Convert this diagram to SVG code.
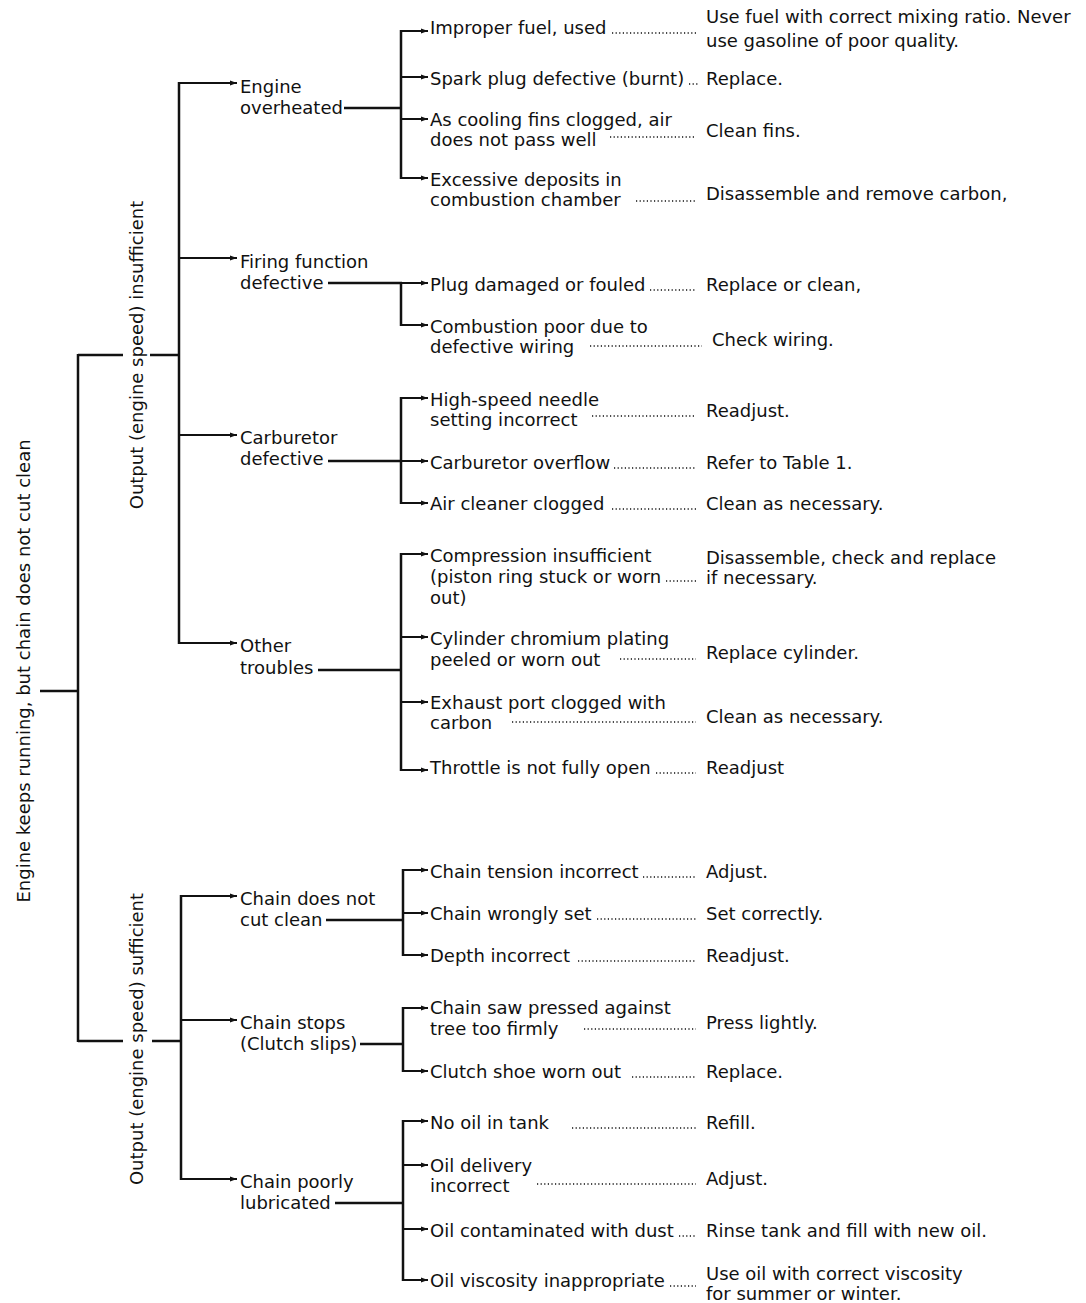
<svg xmlns="http://www.w3.org/2000/svg" width="1086" height="1303" viewBox="0 0 1086 1303">
<defs>
<marker id="tip" markerUnits="userSpaceOnUse" markerWidth="7" markerHeight="6" refX="7" refY="3" orient="auto"><path d="M0,0.5 L7,3 L0,5.5 z" fill="#111"/></marker>
<style>
.t{font-family:"DejaVu Sans","Liberation Sans",sans-serif;font-size:18px;fill:#111}
.ln{stroke:#111;stroke-width:2.5;fill:none}
.br{stroke:#111;stroke-width:2;fill:none;marker-end:url(#tip)}
.dt{stroke:#111;stroke-width:1.6;fill:none;stroke-dasharray:1.2 2.4}
</style>
</defs>
<rect width="1086" height="1303" fill="#fff"/>
<g id="connectors">
<path class="ln" d="M40 691H79 M78 354V1042 M78 355H123 M150 355H180 M78 1041H123 M152 1041H182 M179 82V644 M181 895V1180"/>
<path class="ln" d="M344 108H402 M328 283H402 M328 461H402 M318 670H402 M326 920H404 M360 1044H404 M335 1203H404"/>
<path class="ln" d="M401 30V179 M401 282V326 M401 397V504 M401 553V771 M403 869V956 M403 1007V1072 M403 1120V1281"/>
<path class="br" d="M179 83H237"/><path class="br" d="M179 258H237"/><path class="br" d="M179 435H237"/><path class="br" d="M179 643H237"/>
<path class="br" d="M181 896H237"/><path class="br" d="M181 1020H237"/><path class="br" d="M181 1179H237"/>
<path class="br" d="M401 31H428"/><path class="br" d="M401 77H428"/><path class="br" d="M401 119H428"/><path class="br" d="M401 178H428"/>
<path class="br" d="M401 283H428"/><path class="br" d="M401 325H428"/>
<path class="br" d="M401 398H428"/><path class="br" d="M401 461H428"/><path class="br" d="M401 503H428"/>
<path class="br" d="M401 554H428"/><path class="br" d="M401 637H428"/><path class="br" d="M401 702H428"/><path class="br" d="M401 770H428"/>
<path class="br" d="M403 870H428"/><path class="br" d="M403 913H428"/><path class="br" d="M403 955H428"/>
<path class="br" d="M403 1008H428"/><path class="br" d="M403 1071H428"/>
<path class="br" d="M403 1121H428"/><path class="br" d="M403 1165H428"/><path class="br" d="M403 1229H428"/><path class="br" d="M403 1280H428"/>
<path class="dt" d="M612 33H696 M689 84H698 M610 137H696 M636 201H696 M650 290H696 M590 346H702 M592 416H696 M614 468H696 M612 509H696 M666 581H696 M620 659H696 M512 722H696 M656 773H696 M643 877H696 M597 919H696 M578 961H696 M584 1029H696 M632 1077H696 M572 1128H696 M537 1184H696 M679 1236H696 M670 1286H696"/>
</g>
<g id="root"><text class="t" x="30" y="671" text-anchor="middle" transform="rotate(-90 30 671)">Engine keeps running, but chain does not cut clean</text></g>
<g id="output-insufficient"><text class="t" x="143" y="355" text-anchor="middle" transform="rotate(-90 143 355)">Output (engine speed) insufficient</text></g>
<g id="output-sufficient"><text class="t" x="143" y="1039" text-anchor="middle" transform="rotate(-90 143 1039)">Output (engine speed) sufficient</text></g>
<g id="engine-overheated"><text class="t" x="240" y="93">Engine</text><text class="t" x="240" y="114">overheated</text></g>
<g id="firing-defective"><text class="t" x="240" y="268">Firing function</text><text class="t" x="240" y="289">defective</text></g>
<g id="carburetor-defective"><text class="t" x="240" y="444">Carburetor</text><text class="t" x="240" y="465">defective</text></g>
<g id="other-troubles"><text class="t" x="240" y="652">Other</text><text class="t" x="240" y="674">troubles</text></g>
<g id="chain-not-cut"><text class="t" x="240" y="905">Chain does not</text><text class="t" x="240" y="926">cut clean</text></g>
<g id="chain-stops"><text class="t" x="240" y="1029">Chain stops</text><text class="t" x="240" y="1050">(Clutch slips)</text></g>
<g id="chain-lubricated"><text class="t" x="240" y="1188">Chain poorly</text><text class="t" x="240" y="1209">lubricated</text></g>
<g id="c-improper-fuel"><text class="t" x="430" y="34">Improper fuel, used</text></g>
<g id="r-improper-fuel"><text class="t" x="706" y="23">Use fuel with correct mixing ratio. Never</text><text class="t" x="706" y="47">use gasoline of poor quality.</text></g>
<g id="c-spark-plug"><text class="t" x="430" y="85">Spark plug defective (burnt)</text></g>
<g id="r-spark-plug"><text class="t" x="706" y="85">Replace.</text></g>
<g id="c-cooling-fins"><text class="t" x="430" y="126">As cooling fins clogged, air</text><text class="t" x="430" y="146">does not pass well</text></g>
<g id="r-cooling-fins"><text class="t" x="706" y="137">Clean fins.</text></g>
<g id="c-deposits"><text class="t" x="430" y="186">Excessive deposits in</text><text class="t" x="430" y="206">combustion chamber</text></g>
<g id="r-deposits"><text class="t" x="706" y="200">Disassemble and remove carbon,</text></g>
<g id="c-plug-damaged"><text class="t" x="430" y="291">Plug damaged or fouled</text></g>
<g id="r-plug-damaged"><text class="t" x="706" y="291">Replace or clean,</text></g>
<g id="c-wiring"><text class="t" x="430" y="333">Combustion poor due to</text><text class="t" x="430" y="353">defective wiring</text></g>
<g id="r-wiring"><text class="t" x="712" y="346">Check wiring.</text></g>
<g id="c-needle"><text class="t" x="430" y="406">High-speed needle</text><text class="t" x="430" y="426">setting incorrect</text></g>
<g id="r-needle"><text class="t" x="706" y="417">Readjust.</text></g>
<g id="c-overflow"><text class="t" x="430" y="469">Carburetor overflow</text></g>
<g id="r-overflow"><text class="t" x="706" y="469">Refer to Table 1.</text></g>
<g id="c-air-cleaner"><text class="t" x="430" y="510">Air cleaner clogged</text></g>
<g id="r-air-cleaner"><text class="t" x="706" y="510">Clean as necessary.</text></g>
<g id="c-compression"><text class="t" x="430" y="562">Compression insufficient</text><text class="t" x="430" y="583">(piston ring stuck or worn</text><text class="t" x="430" y="604">out)</text></g>
<g id="r-compression"><text class="t" x="706" y="564">Disassemble, check and replace</text><text class="t" x="706" y="584">if necessary.</text></g>
<g id="c-cylinder"><text class="t" x="430" y="645">Cylinder chromium plating</text><text class="t" x="430" y="666">peeled or worn out</text></g>
<g id="r-cylinder"><text class="t" x="706" y="659">Replace cylinder.</text></g>
<g id="c-exhaust"><text class="t" x="430" y="709">Exhaust port clogged with</text><text class="t" x="430" y="729">carbon</text></g>
<g id="r-exhaust"><text class="t" x="706" y="723">Clean as necessary.</text></g>
<g id="c-throttle"><text class="t" x="430" y="774">Throttle is not fully open</text></g>
<g id="r-throttle"><text class="t" x="706" y="774">Readjust</text></g>
<g id="c-tension"><text class="t" x="430" y="878">Chain tension incorrect</text></g>
<g id="r-tension"><text class="t" x="706" y="878">Adjust.</text></g>
<g id="c-wrongly-set"><text class="t" x="430" y="920">Chain wrongly set</text></g>
<g id="r-wrongly-set"><text class="t" x="706" y="920">Set correctly.</text></g>
<g id="c-depth"><text class="t" x="430" y="962">Depth incorrect</text></g>
<g id="r-depth"><text class="t" x="706" y="962">Readjust.</text></g>
<g id="c-pressed"><text class="t" x="430" y="1014">Chain saw pressed against</text><text class="t" x="430" y="1035">tree too firmly</text></g>
<g id="r-pressed"><text class="t" x="706" y="1029">Press lightly.</text></g>
<g id="c-clutch-shoe"><text class="t" x="430" y="1078">Clutch shoe worn out</text></g>
<g id="r-clutch-shoe"><text class="t" x="706" y="1078">Replace.</text></g>
<g id="c-no-oil"><text class="t" x="430" y="1129">No oil in tank</text></g>
<g id="r-no-oil"><text class="t" x="706" y="1129">Refill.</text></g>
<g id="c-oil-delivery"><text class="t" x="430" y="1172">Oil delivery</text><text class="t" x="430" y="1192">incorrect</text></g>
<g id="r-oil-delivery"><text class="t" x="706" y="1185">Adjust.</text></g>
<g id="c-oil-dust"><text class="t" x="430" y="1237">Oil contaminated with dust</text></g>
<g id="r-oil-dust"><text class="t" x="706" y="1237">Rinse tank and fill with new oil.</text></g>
<g id="c-viscosity"><text class="t" x="430" y="1287">Oil viscosity inappropriate</text></g>
<g id="r-viscosity"><text class="t" x="706" y="1280">Use oil with correct viscosity</text><text class="t" x="706" y="1300">for summer or winter.</text></g>
</svg>
